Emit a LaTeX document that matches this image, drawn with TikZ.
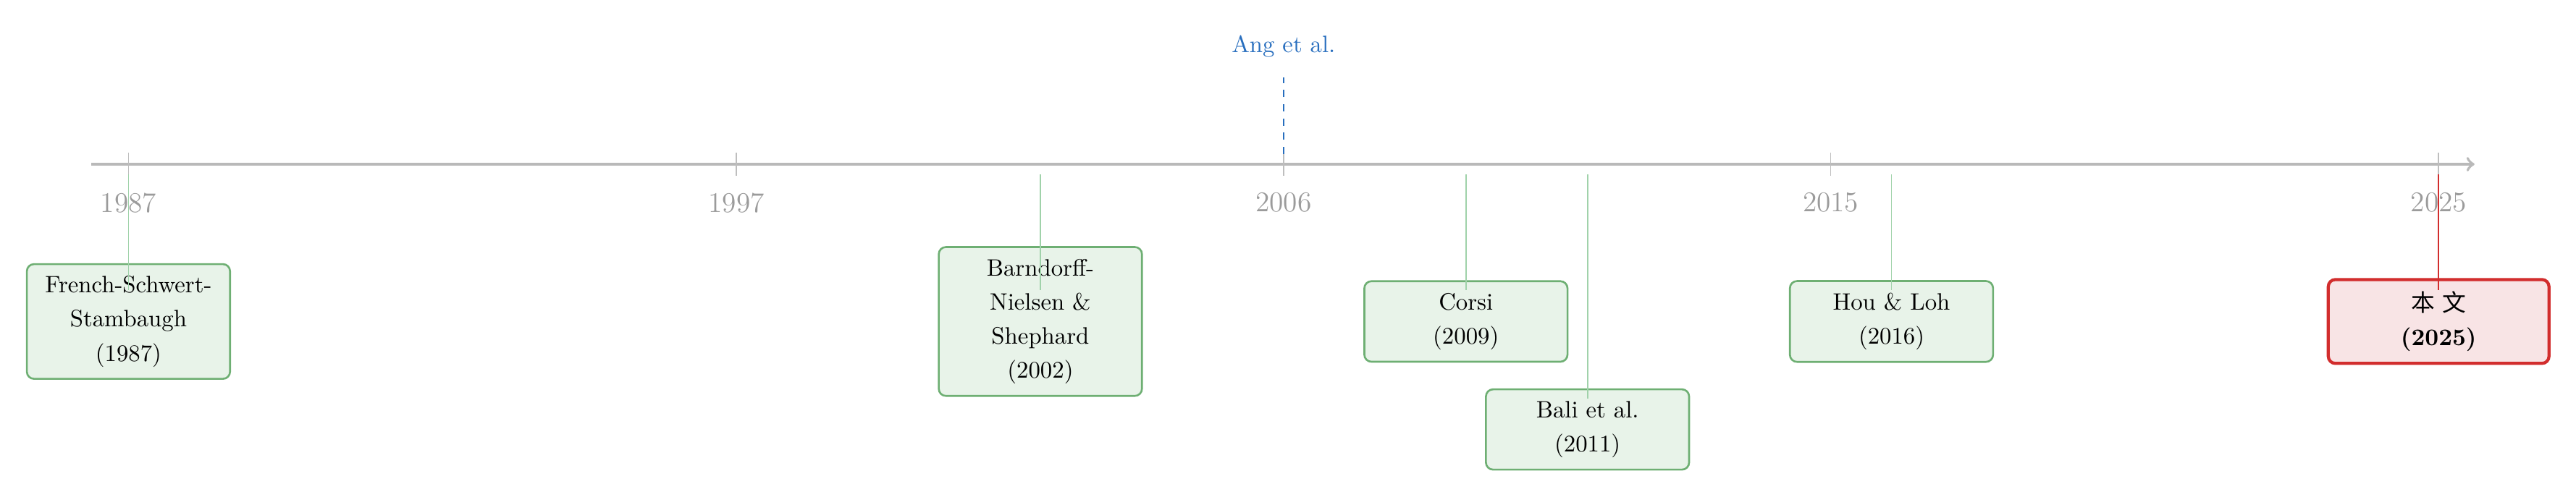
\documentclass[tikz,border=0pt]{standalone}
\usepackage{fontspec}
\newfontfamily\cjk{Noto Sans CJK SC}
\usepackage{xcolor}
\usepackage{tikz}
\usetikzlibrary{positioning, calc, arrows.meta}
\definecolor{axisgray}{RGB}{185,185,185}
\definecolor{tickgray}{RGB}{190,190,190}
\definecolor{yeargray}{RGB}{155,155,155}
\definecolor{evgreen}{RGB}{110,175,115}
\definecolor{evfill}{RGB}{232,243,233}
\definecolor{linkgreen}{RGB}{160,210,170}
\definecolor{ourred}{RGB}{210,45,45}
\definecolor{ourfill}{RGB}{248,228,229}
\definecolor{angblue}{RGB}{40,110,190}

\begin{document}
\begin{tikzpicture}[x=0.9cm, y=1cm, >=to,
    event/.style={draw=evgreen, fill=evfill, rounded corners=3pt, line width=0.8pt,
        text width=2.6cm, align=center, inner xsep=5.8pt, inner ysep=5pt,
        font=\linespread{1.2}\selectfont},
    ours/.style={event, draw=ourred, fill=ourfill, line width=1.3pt, text width=2.86cm},
    link/.style={linkgreen, line width=0.5pt},
    tickmark/.style={tickgray, line width=0.5pt},
    yearlabel/.style={text=yeargray, font=\large}]

    \useasboundingbox (-2.113,-4.93) rectangle (40.26,2.433);

    % --- Axis ---
    \coordinate (axisstart) at (-0.61,0);
    \coordinate (axisend) at (38.59,0);
    \draw[axisgray, line width=1.2pt, ->] (axisstart) -- (axisend);

    % --- Ticks and year labels ---
    \draw[tickmark] (0,0.17) -- (0,-0.17);
    \node[yearlabel] (y1987) at (0,-0.57) {1987};
    \draw[tickmark] (10,0.17) -- (10,-0.17);
    \node[yearlabel] (y1997) at (10,-0.57) {1997};
    \draw[tickmark] (19,0.17) -- (19,-0.17);
    \node[yearlabel] (y2006) at (19,-0.57) {2006};
    \draw[tickmark] (28,0.17) -- (28,-0.17);
    \node[yearlabel] (y2015) at (28,-0.57) {2015};
    \draw[tickmark] (38,0.17) -- (38,-0.17);
    \node[yearlabel] (y2025) at (38,-0.57) {2025};

    % --- Above the axis ---
    \coordinate (angbase) at (19,0.15);
    \node[text=angblue] (ang) at (19,1.75) {Ang et al.};
    \draw[angblue, dashed, line width=0.6pt] (angbase) -- ([yshift=-5pt]ang.south);

    % --- Events below the axis ---
    \node[event] (fss) at (0,-2.33) {French-Schwert-\\Stambaugh\\(1987)};
    \coordinate (fsstop) at (0,-0.15);
    \draw[link] (fsstop) -- ([yshift=0.46cm]fss.center);

    \node[event] (bns) at (15,-2.33) {Barndorff-\\Nielsen \&\\Shephard\\(2002)};
    \coordinate (bnstop) at (15,-0.15);
    \draw[link] (bnstop) -- ([yshift=0.46cm]bns.center);

    \node[event] (corsi) at (22,-2.33) {Corsi\\(2009)};
    \coordinate (corsitop) at (22,-0.15);
    \draw[link] (corsitop) -- ([yshift=0.46cm]corsi.center);

    \node[event] (bali) at (24,-3.93) {Bali et al.\\(2011)}; % one row lower than Corsi
    \coordinate (balitop) at (24,-0.15);
    \draw[link] (balitop) -- ([yshift=0.46cm]bali.center);

    \node[event] (hou) at (29,-2.33) {Hou \& Loh\\(2016)};
    \coordinate (houtop) at (29,-0.15);
    \draw[link] (houtop) -- ([yshift=0.46cm]hou.center);

    % --- This work ---
    \node[ours] (ourwork) at (38,-2.33) {{\cjk 本\ 文}\\\textbf{(2025)}};
    \coordinate (ourtop) at (38,-0.15);
    \draw[ourred, line width=0.5pt] (ourtop) -- ([yshift=0.46cm]ourwork.center);

\end{tikzpicture}
\end{document}
